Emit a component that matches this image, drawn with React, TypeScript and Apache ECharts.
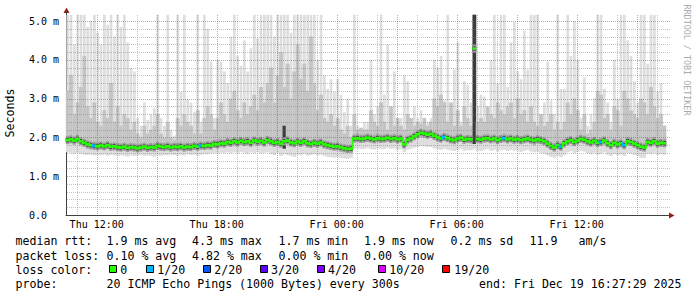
import React, { useEffect, useRef } from "react";
import * as echarts from "echarts";

// Time in hours since Thu 00:00, data at 10-minute steps
const START_H = 10.4583;
const STEP_H = 1 / 6;

const medianMs = [
  1.93, 1.95, 1.92, 1.96, 1.90, 1.86, 1.82, 1.80, 1.78, 1.77,
  1.79, 1.77, 1.80, 1.76, 1.77, 1.75, 1.74, 1.76, 1.73, 1.75,
  1.74, 1.72, 1.74, 1.76, 1.73, 1.75, 1.74, 1.78, 1.76, 1.75,
  1.77, 1.74, 1.76, 1.75, 1.77, 1.74, 1.76, 1.75, 1.78, 1.76,
  1.79, 1.78, 1.80, 1.79, 1.83, 1.82, 1.85, 1.84, 1.88, 1.86,
  1.90, 1.87, 1.91, 1.88, 1.90, 1.86, 1.92, 1.89, 1.91, 1.87,
  1.93, 1.90, 1.86, 1.88, 1.84, 1.90, 1.92, 1.87, 1.85, 1.89,
  1.86, 1.90, 1.85, 1.83, 1.86, 1.84, 1.87, 1.82, 1.80, 1.78,
  1.76, 1.77, 1.74, 1.72, 1.70, 1.71, 1.97, 1.98, 1.96, 1.97,
  1.99, 1.97, 1.95, 1.98, 1.96, 1.97, 1.99, 1.96, 1.98, 1.95,
  1.97, 1.82, 1.94, 1.97, 2.03, 2.08, 2.12, 2.10, 2.07, 2.09,
  2.04, 2.00, 1.97, 2.01, 1.98, 1.95, 1.93, 1.97, 1.99, 1.94,
  1.96, 1.95, 4.29, 1.96, 1.94, 1.97, 1.98, 1.95, 1.97, 1.93,
  1.96, 1.98, 1.95, 1.97, 1.94, 1.96, 1.93, 1.95, 1.97, 1.94,
  1.92, 1.95, 1.93, 1.90, 1.84, 1.78, 1.74, 1.80, 1.76, 1.85,
  1.90, 1.93, 1.88, 1.92, 1.96, 1.94, 1.90, 1.87, 1.91, 1.86,
  1.88, 1.92, 1.85, 1.80, 1.86, 1.82, 1.85, 1.80, 1.90, 1.88,
  1.84, 1.80, 1.76, 1.74, 1.88, 1.86, 1.90, 1.84, 1.86, 1.85,
];

const smokeTopMs = [
  5.16, 5.16, 4.4, 5.16, 5.16, 5.16, 4.85, 5.0, 5.16, 4.7,
  4.4, 5.16, 4.9, 5.16, 4.6, 5.16, 4.85, 5.16, 4.45, 3.8,
  3.7, 2.5, 2.3, 2.9, 2.45, 2.6, 2.75, 5.16, 2.5, 2.3,
  5.16, 2.2, 2.05, 5.16, 3.17, 5.16, 3.0, 2.9, 2.65, 5.16,
  2.4, 5.16, 4.8, 3.95, 2.5, 4.0, 3.95, 3.7, 3.4, 4.6,
  5.16, 4.1, 3.85, 4.5, 3.7, 4.3, 5.16, 4.55, 5.16, 5.16,
  5.16, 5.16, 4.6, 5.16, 5.16, 5.16, 5.16, 4.7, 5.16, 5.16,
  5.16, 5.16, 5.16, 5.16, 5.16, 4.0, 5.16, 3.6, 3.25, 3.5,
  3.17, 3.5, 3.1, 2.65, 3.0, 2.3, 5.16, 2.3, 2.2, 2.4,
  2.4, 4.0, 2.6, 2.8, 5.16, 3.1, 4.4, 2.5, 3.7, 2.4,
  2.5, 3.6, 3.45, 2.4, 2.8, 2.5, 2.7, 2.3, 2.4, 2.5,
  4.0, 3.8, 4.1, 2.95, 5.16, 2.6, 3.75, 4.45, 2.4, 3.45,
  3.35, 2.9, 5.16, 2.8, 3.1, 3.05, 2.7, 4.0, 5.16, 3.4,
  5.16, 5.16, 3.3, 4.45, 4.97, 3.7, 3.5, 4.75, 3.75, 5.16,
  5.16, 5.16, 2.6, 2.9, 3.95, 2.95, 2.6, 5.16, 3.25, 3.25,
  5.16, 4.1, 5.0, 4.0, 2.5, 3.55, 2.3, 2.6, 3.0, 5.16,
  5.16, 3.25, 2.9, 2.4, 4.0, 3.0, 5.16, 5.16, 4.5, 4.1,
  3.45, 2.9, 5.16, 5.16, 3.9, 5.16, 5.16, 3.2, 3.4, 2.3,
];

const smokeMidMs = [
  3.2, 3.6, 2.6, 2.9, 3.3, 4.1, 2.8, 2.5, 2.9, 2.4,
  2.3, 2.7, 2.5, 3.4, 2.4, 2.8, 2.3, 2.6, 2.5, 2.2,
  2.4, 2.1, 2.0, 2.3, 2.1, 2.2, 2.3, 2.6, 2.1, 2.0,
  2.4, 2.0, 1.95, 2.5, 2.3, 2.6, 2.4, 2.3, 2.1, 2.7,
  2.1, 2.5, 2.8, 2.6, 2.2, 2.5, 2.9, 2.6, 2.4, 3.0,
  3.2, 2.7, 2.5, 2.9, 2.6, 2.8, 3.1, 2.7, 3.3, 2.9,
  3.4, 3.8, 2.9, 3.6, 4.2, 3.3, 3.9, 3.0, 3.7, 4.4,
  3.5, 3.9, 3.2, 4.6, 3.4, 2.7, 3.1, 2.5, 2.4, 2.6,
  2.3, 2.5, 2.2, 2.1, 2.3, 2.0, 2.6, 2.2, 2.25, 2.2,
  2.2, 2.7, 2.4, 2.3, 2.9, 2.4, 2.2, 2.8, 2.3, 2.5,
  2.3, 2.2, 2.6, 2.5, 2.3, 2.4, 2.35, 2.5, 2.3, 2.4,
  3.0, 2.8, 3.1, 2.9, 2.4, 2.9, 2.3, 2.7, 2.3, 2.8,
  2.5, 2.3, 5.16, 2.4, 2.5, 2.4, 2.8, 2.6, 2.5, 2.9,
  2.7, 2.6, 2.8, 2.9, 2.5, 3.0, 2.6, 2.7, 2.4, 2.8,
  2.4, 2.3, 2.6, 2.3, 2.4, 2.6, 2.2, 2.4, 2.2, 2.4,
  2.9, 2.6, 3.0, 2.7, 2.2, 2.6, 2.1, 2.2, 2.4, 3.2,
  3.1, 2.5, 2.6, 2.2, 2.8, 2.7, 2.3, 3.2, 3.0, 2.7,
  2.6, 2.5, 3.0, 2.9, 2.6, 3.3, 2.8, 2.5, 2.6, 2.3,
];

const smokeLowMs = [
  1.62, 1.60, 1.58, 1.60, 1.57, 1.56, 1.55, 1.56, 1.54, 1.55,
  1.54, 1.56, 1.53, 1.55, 1.54, 1.52, 1.54, 1.53, 1.51, 1.54,
  1.52, 1.53, 1.55, 1.52, 1.54, 1.53, 1.51, 1.54, 1.53, 1.55,
  1.54, 1.56, 1.55, 1.53, 1.56, 1.54, 1.57, 1.55, 1.56, 1.53,
  1.56, 1.58, 1.57, 1.59, 1.60, 1.58, 1.61, 1.60, 1.62, 1.60,
  1.62, 1.59, 1.63, 1.61, 1.58, 1.62, 1.60, 1.63, 1.59, 1.61,
  1.62, 1.58, 1.55, 1.60, 1.52, 1.58, 1.55, 1.52, 1.50, 1.56,
  1.54, 1.58, 1.53, 1.55, 1.57, 1.54, 1.56, 1.52, 1.50, 1.49,
  1.48, 1.50, 1.47, 1.46, 1.45, 1.47, 1.70, 1.72, 1.70, 1.71,
  1.73, 1.70, 1.69, 1.72, 1.70, 1.71, 1.73, 1.70, 1.72, 1.69,
  1.71, 1.62, 1.68, 1.71, 1.74, 1.76, 1.78, 1.77, 1.75, 1.76,
  1.72, 1.70, 1.68, 1.71, 1.69, 1.67, 1.65, 1.68, 1.70, 1.66,
  1.68, 1.67, 1.70, 1.66, 1.65, 1.68, 1.70, 1.66, 1.68, 1.64,
  1.67, 1.69, 1.65, 1.68, 1.66, 1.67, 1.63, 1.66, 1.68, 1.64,
  1.62, 1.64, 1.60, 1.58, 1.54, 1.50, 1.48, 1.52, 1.49, 1.56,
  1.62, 1.65, 1.60, 1.63, 1.66, 1.64, 1.60, 1.57, 1.61, 1.56,
  1.58, 1.62, 1.56, 1.52, 1.57, 1.54, 1.56, 1.52, 1.60, 1.58,
  1.55, 1.52, 1.48, 1.47, 1.58, 1.57, 1.60, 1.55, 1.57, 1.56,
];

// [step index, top of dark smoke in ms]
const darkSmoke = [
  [65, 2.3],
  [122, 5.16],
];

// steps whose median carries a 1/20 packet loss
const lossOneOf20Steps = [8, 40, 113, 131, 148, 160, 167];

const xTickValues = [12, 18, 24, 30, 36];
const xTickLabels = ["Thu 12:00", "Thu 18:00", "Fri 00:00", "Fri 06:00", "Fri 12:00"];
const yTickValues = [0, 1, 2, 3, 4, 5];
const yTickLabels = ["0.0", "1.0 m", "2.0 m", "3.0 m", "4.0 m", "5.0 m"];

const medianRow = ["median rtt:", "1.9 ms avg", "4.3 ms max", "1.7 ms min", "1.9 ms now", "0.2 ms sd", "11.9", "am/s"];
const lossRow = ["packet loss:", "0.10 % avg", "4.82 % max", "0.00 % min", "0.00 % now"];
const lossLegendTitle = "loss color:";
const lossLegendLabels = ["0", "1/20", "2/20", "3/20", "4/20", "10/20", "19/20"];
const lossLegendColors = ["#26ff00", "#00b8ff", "#0059ff", "#5e00ff", "#7e00ff", "#dd00ff", "#ff0000"];
const probeTitle = "probe:";
const probeText = "20 ICMP Echo Pings (1000 Bytes) every 300s";
const endText = "end: Fri Dec 19 16:27:29 2025";

// ---- layout (pixels) ----
const W = 697;
const H = 297;
const X_MIN = 10.465;
const X_MAX = 40.665;
const Y_MAX = 5.232;
const Y_CLIP = 5.16;
const MONO = '"DejaVu Sans Mono", monospace';
const LEGEND_FONT = `11.6px ${MONO}`;
const rowCols1 = [15.5, 106.5, 192, 278.5, 364, 450.5, 529.5, 578.5];
const rowY = [241.3, 255.5, 269.7, 283.8];
const boxX = [109, 146, 203, 260, 317, 378, 442];
const boxLabelX = [120.3, 157.3, 214.3, 271, 328, 389.3, 454.3];

function txt(text: string, x: number, y: number, extra: any = {}) {
  return {
    type: "text",
    x,
    y,
    silent: true,
    style: {
      text,
      font: LEGEND_FONT,
      fill: "#000",
      align: "left",
      verticalAlign: "middle",
      textAlign: "left",
      textVerticalAlign: "middle",
      ...extra,
    },
  };
}

export default function App() {
  const ref = useRef<HTMLDivElement>(null);

  useEffect(() => {
    document.body.style.margin = "0";
    if (!ref.current) return;
    const chart = echarts.init(ref.current, undefined, { renderer: "svg", width: W, height: H });

    const darkTop: Record<number, number> = {};
    darkSmoke.forEach(([i, v]) => (darkTop[i] = v));
    const lossSet = new Set(lossOneOf20Steps);

    const smokeData = medianMs.map((m, i) => [
      START_H + i * STEP_H,
      smokeLowMs[i],
      smokeTopMs[i],
      smokeMidMs[i],
      m,
      darkTop[i] ?? 0,
    ]);
    const medianData = medianMs.map((m, i) => [
      START_H + i * STEP_H,
      m,
      i > 0 ? medianMs[i - 1] : m,
      lossSet.has(i) ? 1 : 0,
    ]);

    const gridData: number[][] = [];
    for (let h = 11; h <= 40; h++) gridData.push([h, 0, 1, h % 3 === 0 ? 1 : 0]);
    for (let k = 1; k <= 25; k++) {
      const v = k / 5;
      gridData.push([X_MIN, v, 0, k % 5 === 0 ? 1 : 0]);
    }

    const graphic: any[] = [];
    graphic.push({
      type: "polygon",
      silent: true,
      shape: { points: [[63.5, 13], [69.5, 13], [66.5, 7.5]] },
      style: { fill: "#9c1c1c" },
    });
    graphic.push({
      type: "polygon",
      silent: true,
      shape: { points: [[669, 212.5], [669, 218.5], [674.5, 215.5]] },
      style: { fill: "#9c1c1c" },
    });
    graphic.push({
      type: "text",
      x: 10,
      y: 113,
      rotation: Math.PI / 2,
      silent: true,
      style: {
        text: "Seconds",
        font: LEGEND_FONT,
        fill: "#000",
        align: "center",
        verticalAlign: "middle",
        textAlign: "center",
        textVerticalAlign: "middle",
      },
    });
    graphic.push({
      type: "text",
      x: 687,
      y: 60,
      rotation: -Math.PI / 2,
      silent: true,
      style: {
        text: "RRDTOOL / TOBI OETIKER",
        font: `8.4px ${MONO}`,
        fill: "#aaaaaa",
        align: "center",
        verticalAlign: "middle",
        textAlign: "center",
        textVerticalAlign: "middle",
      },
    });
    medianRow.forEach((s, k) => graphic.push(txt(s, rowCols1[k], rowY[0])));
    lossRow.forEach((s, k) => graphic.push(txt(s, rowCols1[k], rowY[1])));
    graphic.push(txt(lossLegendTitle, rowCols1[0], rowY[2]));
    lossLegendLabels.forEach((s, k) => {
      graphic.push({
        type: "rect",
        silent: true,
        shape: { x: boxX[k] + 0.5, y: 265.5, width: 7, height: 7 },
        style: { fill: lossLegendColors[k], stroke: "#000", lineWidth: 1 },
      });
      graphic.push(txt(s, boxLabelX[k], rowY[2]));
    });
    graphic.push(txt(probeTitle, rowCols1[0], rowY[3]));
    graphic.push(txt(probeText, rowCols1[1], rowY[3]));
    graphic.push(txt(endText, 681.5, rowY[3], { align: "right", textAlign: "right" }));

    const option: any = {
      animation: false,
      backgroundColor: "#ffffff",
      grid: { left: 66, top: 12, right: W - 670, bottom: H - 215, containLabel: false, outerBoundsMode: "none" },
      xAxis: {
        type: "value",
        min: X_MIN,
        max: X_MAX,
        axisLine: { show: true, lineStyle: { color: "#404040", width: 1 } },
        axisTick: { show: false },
        splitLine: { show: false },
        axisLabel: {
          customValues: xTickValues,
          formatter: (v: number) => {
            const k = xTickValues.findIndex((t) => Math.abs(t - v) < 1e-6);
            return k >= 0 ? xTickLabels[k] : "";
          },
          color: "#000",
          fontFamily: MONO,
          fontSize: 10,
          margin: 4,
        },
      },
      yAxis: {
        type: "value",
        min: 0,
        max: Y_MAX,
        axisLine: { show: true, lineStyle: { color: "#404040", width: 1 } },
        axisTick: { show: false },
        splitLine: { show: false },
        axisLabel: {
          customValues: yTickValues,
          formatter: (v: number) => {
            const k = yTickValues.findIndex((t) => Math.abs(t - v) < 1e-6);
            return k >= 0 ? yTickLabels[k] : "";
          },
          color: "#000",
          fontFamily: MONO,
          fontSize: 10,
          align: "left",
          margin: 37,
        },
      },
      series: [
        {
          type: "custom",
          name: "smoke",
          silent: true,
          clip: false,
          encode: { x: 0, y: 1 },
          data: smokeData,
          renderItem: (_p: any, api: any) => {
            const t = api.value(0);
            const lo = api.value(1);
            const hi = Math.min(api.value(2), Y_CLIP);
            const mid = Math.min(api.value(3), Y_CLIP);
            const med = api.value(4);
            const dk = Math.min(api.value(5), Y_CLIP);
            const pL = api.coord([t, lo]);
            const pR = api.coord([t + STEP_H, lo]);
            const x = pL[0];
            const w = pR[0] - pL[0] + 0.35;
            const yLo = pL[1];
            const yHi = api.coord([t, hi])[1];
            const yMid = api.coord([t, mid])[1];
            const yMed = api.coord([t, med])[1];
            const lw = w * 0.72;
            const yBandTop = Math.max(yHi, yMid);
            const children: any[] = [
              // thin light spike above the inner smoke
              { type: "rect", shape: { x: x + (w - lw) / 2, y: yHi, width: lw, height: yLo - yHi }, style: { fill: "#dedede" } },
              // full-width light smoke from low edge to inner smoke top
              { type: "rect", shape: { x, y: yBandTop, width: w, height: yLo - yBandTop }, style: { fill: "#dedede" } },
              // inner (medium) smoke
              { type: "rect", shape: { x, y: yMid, width: w, height: yMed + 4 - yMid }, style: { fill: "#c4c4c4" } },
            ];
            if (dk > 0) {
              const yDk = api.coord([t, dk])[1];
              children.push({ type: "rect", shape: { x, y: yDk, width: w, height: yLo - 5 - yDk }, style: { fill: "#3c3c3c" } });
            }
            children.push({ type: "rect", shape: { x, y: yMed - 4, width: w, height: 8 }, style: { fill: "#9a9a9a" } });
            children.push({ type: "rect", shape: { x, y: yMed - 2.2, width: w, height: 4.4 }, style: { fill: "#4d4d4d" } });
            return { type: "group", children };
          },
        },
        {
          type: "custom",
          name: "grid",
          silent: true,
          clip: false,
          encode: { x: 0, y: 1 },
          data: gridData,
          renderItem: (_p: any, api: any) => {
            const vertical = api.value(2) === 1;
            const major = api.value(3) === 1;
            const stroke = major ? "rgba(215,45,45,0.5)" : "rgba(120,120,120,0.45)";
            if (vertical) {
              const v = api.value(0);
              const a = api.coord([v, 0]);
              const b = api.coord([v, Y_CLIP + 0.02]);
              const x = Math.round(a[0]) + 0.5;
              return { type: "line", shape: { x1: x, y1: a[1] - 1, x2: x, y2: b[1] }, style: { stroke, lineWidth: 1, lineDash: [1, 1] } };
            }
            const v = api.value(1);
            const a = api.coord([X_MIN, v]);
            const b = api.coord([X_MAX, v]);
            const y = Math.round(a[1]) + 0.5;
            return { type: "line", shape: { x1: a[0] + 1, y1: y, x2: b[0], y2: y }, style: { stroke, lineWidth: 1, lineDash: [1, 1] } };
          },
        },
        {
          type: "custom",
          name: "median",
          silent: true,
          clip: false,
          encode: { x: 0, y: 1 },
          data: medianData,
          renderItem: (_p: any, api: any) => {
            const t = api.value(0);
            const m = api.value(1);
            const prev = api.value(2);
            const loss = api.value(3);
            const color = lossLegendColors[loss] || lossLegendColors[0];
            const p = api.coord([t, m]);
            const q = api.coord([t + STEP_H, m]);
            const children: any[] = [
              { type: "rect", shape: { x: p[0], y: p[1] - 1.3, width: q[0] - p[0] + 0.3, height: 2.6 }, style: { fill: color } },
            ];
            if (Math.abs(prev - m) < 0.6) {
              const pp = api.coord([t, prev]);
              children.push({
                type: "rect",
                shape: { x: p[0] - 0.6, y: Math.min(pp[1], p[1]) - 1.3, width: 1.6, height: Math.abs(pp[1] - p[1]) + 2.6 },
                style: { fill: color },
              });
            }
            return { type: "group", children };
          },
        },
      ],
      graphic,
    };

    chart.setOption(option);
    return () => chart.dispose();
  }, []);

  return (
    <div
      ref={ref}
      style={{ position: "fixed", left: 0, top: 0, width: W, height: H, background: "#fff" }}
    />
  );
}
